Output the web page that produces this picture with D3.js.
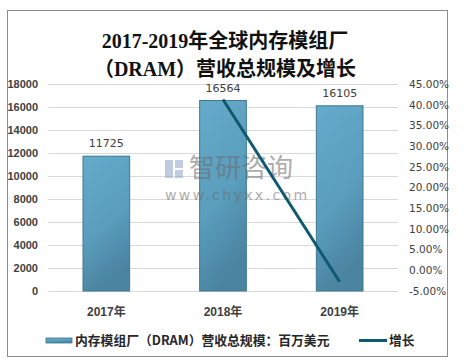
<!DOCTYPE html>
<html>
<head>
<meta charset="utf-8">
<style>
  body { margin: 0; background: #fff; }
  svg { display: block; }
</style>
</head>
<body>
<script src="https://cdn.jsdelivr.net/npm/d3@7"></script>
<script>
var years = ["2017年", "2018年", "2019年"];
var revenue = [11725, 16564, 16105];
var growth = [null, 41.27, -2.77];
var leftTicks = [0, 2000, 4000, 6000, 8000, 10000, 12000, 14000, 16000, 18000];
var rightTicks = [-5, 0, 5, 10, 15, 20, 25, 30, 35, 40, 45];

var W = 465, H = 362;
var plot = { left: 48, right: 398, top: 84, bottom: 291 };

var svg = d3.select("body").append("svg")
    .attr("width", W)
    .attr("height", H);

var defs = svg.append("defs");
var grad = defs.append("linearGradient")
    .attr("id", "barGrad")
    .attr("x1", "0").attr("y1", "0").attr("x2", "0.3").attr("y2", "1");
grad.append("stop").attr("offset", "0%").attr("stop-color", "#66abcb");
grad.append("stop").attr("offset", "60%").attr("stop-color", "#5a9dbd");
grad.append("stop").attr("offset", "100%").attr("stop-color", "#4a84a0");

// outer frame
svg.append("rect")
    .attr("x", 7.5).attr("y", 10.5)
    .attr("width", 440).attr("height", 346)
    .attr("fill", "#fff")
    .attr("stroke", "#8c8c8c")
    .attr("stroke-width", 1);

// title
var title = svg.append("text")
    .attr("text-anchor", "middle")
    .attr("font-family", "'Liberation Serif', 'DejaVu Serif', 'Noto Sans CJK SC', serif")
    .attr("font-weight", "bold")
    .attr("font-size", 20)
    .attr("fill", "#111");
title.append("tspan").attr("x", 225).attr("y", 48).text("2017-2019年全球内存模组厂");
title.append("tspan").attr("x", 225).attr("y", 76).text("（DRAM）营收总规模及增长");

var x = d3.scaleBand().domain(years).range([plot.left, plot.right]);
var y = d3.scaleLinear().domain([0, 18000]).range([plot.bottom, plot.top]);
var y2 = d3.scaleLinear().domain([-5, 45]).range([plot.bottom, plot.top]);

// gridlines
svg.append("g")
  .selectAll("line")
  .data(leftTicks)
  .join("line")
    .attr("x1", plot.left).attr("x2", plot.right)
    .attr("y1", function (d) { return Math.round(y(d)) + 0.5; })
    .attr("y2", function (d) { return Math.round(y(d)) + 0.5; })
    .attr("stroke", "#d9d9d9");

// left axis
var leftAxis = svg.append("g")
    .attr("transform", "translate(" + plot.left + ",0)")
    .call(d3.axisLeft(y).tickValues(leftTicks).tickSize(0).tickPadding(10)
      .tickFormat(d3.format("d")));
leftAxis.select(".domain").remove();
leftAxis.selectAll("text")
    .attr("font-family", "'Liberation Sans', Arial, sans-serif")
    .attr("font-weight", "bold")
    .attr("font-size", 11)
    .attr("fill", "#404040");

// right axis
var rightAxis = svg.append("g")
    .attr("transform", "translate(" + plot.right + ",0)")
    .call(d3.axisRight(y2).tickValues(rightTicks).tickSize(0).tickPadding(11)
      .tickFormat(function (d) { return d.toFixed(2) + "%"; }));
rightAxis.select(".domain").remove();
rightAxis.selectAll("text")
    .attr("font-family", "'DejaVu Sans', 'Noto Sans', sans-serif")
    .attr("font-size", 10.5)
    .attr("fill", "#404040");

// bars
var barW = x.bandwidth() * 0.4;
svg.append("g")
  .selectAll("rect")
  .data(revenue)
  .join("rect")
    .attr("x", function (d, i) { return x(years[i]) + (x.bandwidth() - barW) / 2; })
    .attr("y", function (d) { return y(d); })
    .attr("width", barW)
    .attr("height", function (d) { return y(0) - y(d); })
    .attr("fill", "url(#barGrad)")
    .attr("stroke", "#3f7891")
    .attr("stroke-width", 1);

// bar labels
svg.append("g")
  .selectAll("text")
  .data(revenue)
  .join("text")
    .attr("x", function (d, i) { return x(years[i]) + x.bandwidth() / 2; })
    .attr("y", function (d) { return y(d) - 9; })
    .attr("text-anchor", "middle")
    .attr("font-family", "'DejaVu Sans', 'Noto Sans', sans-serif")
    .attr("font-size", 11)
    .attr("fill", "#404040")
    .text(function (d) { return d; });

// x labels
svg.append("g")
  .selectAll("text")
  .data(years)
  .join("text")
    .attr("x", function (d) { return x(d) + x.bandwidth() / 2; })
    .attr("y", 316)
    .attr("text-anchor", "middle")
    .attr("font-family", "'Liberation Sans', 'Noto Sans CJK SC', sans-serif")
    .attr("font-weight", "bold")
    .attr("font-size", 12)
    .attr("fill", "#404040")
    .text(function (d) { return d; });

// watermark
var wm = svg.append("g").attr("opacity", 0.55);
wm.append("rect").attr("x", 165).attr("y", 160).attr("width", 8).attr("height", 18).attr("fill", "#8fa3c8");
wm.append("rect").attr("x", 175).attr("y", 160).attr("width", 8).attr("height", 8).attr("fill", "#8fa3c8");
wm.append("rect").attr("x", 175).attr("y", 170).attr("width", 8).attr("height", 8).attr("fill", "#8fa3c8");
wm.append("text")
    .attr("x", 189).attr("y", 177)
    .attr("font-family", "'Noto Sans CJK SC', sans-serif")
    .attr("font-size", 26)
    .attr("fill", "#6b6b6b")
    .text("智研咨询");
wm.append("text")
    .attr("x", 165).attr("y", 200)
    .attr("font-family", "'DejaVu Sans', sans-serif")
    .attr("font-size", 14)
    .attr("letter-spacing", 2.4)
    .attr("fill", "#6b6b6b")
    .text("www.chyxx.com");

// growth line
var line = d3.line()
    .defined(function (d) { return d !== null; })
    .x(function (d, i) { return x(years[i]) + x.bandwidth() / 2; })
    .y(function (d) { return y2(d); });
svg.append("path")
    .datum(growth)
    .attr("fill", "none")
    .attr("stroke", "#0f5a70")
    .attr("stroke-width", 3)
    .attr("d", line);

// legend
svg.append("rect")
    .attr("x", 46).attr("y", 338)
    .attr("width", 26).attr("height", 5)
    .attr("fill", "url(#barGrad)")
    .attr("stroke", "#3f7891")
    .attr("stroke-width", 0.8);
svg.append("text")
    .attr("x", 75).attr("y", 345)
    .attr("font-family", "'Noto Sans CJK SC', sans-serif")
    .attr("font-weight", "bold")
    .attr("font-size", 12.8)
    .attr("fill", "#262626")
    .text("内存模组厂（DRAM）营收总规模：百万美元");
svg.append("line")
    .attr("x1", 359).attr("x2", 387)
    .attr("y1", 340.5).attr("y2", 340.5)
    .attr("stroke", "#0f5a70")
    .attr("stroke-width", 3);
svg.append("text")
    .attr("x", 389).attr("y", 345)
    .attr("font-family", "'Noto Sans CJK SC', sans-serif")
    .attr("font-weight", "bold")
    .attr("font-size", 12.8)
    .attr("fill", "#262626")
    .text("增长");
</script>
</body>
</html>
